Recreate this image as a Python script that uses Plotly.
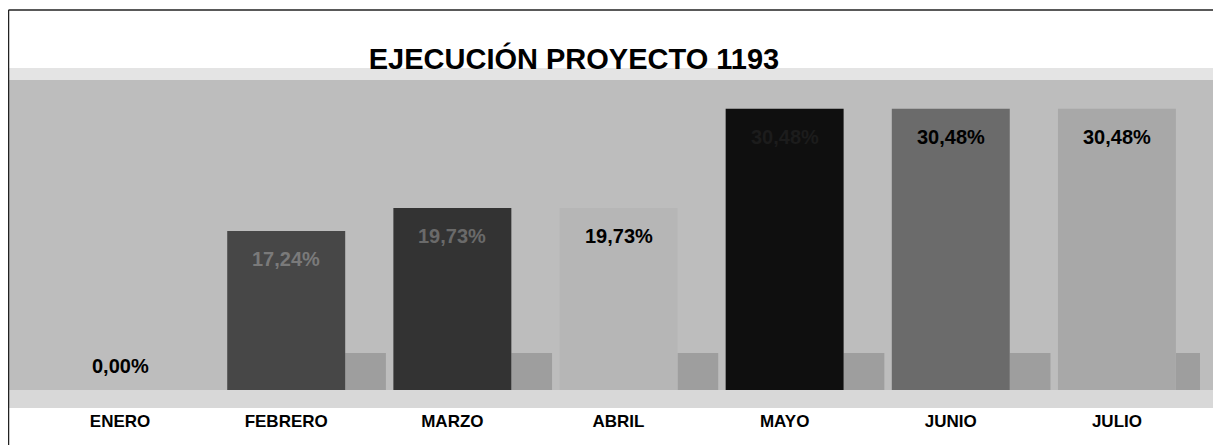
import plotly.graph_objects as go

# ---- data ----
categories = ["ENERO", "FEBRERO", "MARZO", "ABRIL", "MAYO", "JUNIO", "JULIO"]
values = [0.00, 17.24, 19.73, 19.73, 30.48, 30.48, 30.48]
value_labels = ["0,00%", "17,24%", "19,73%", "19,73%", "30,48%", "30,48%", "30,48%"]
title_text = "EJECUCIÓN PROYECTO 1193"

# ---- styles ----
bar_colors = ["#9a9a9a", "#474747", "#333333", "#b6b6b6", "#0f0f0f", "#6b6b6b", "#a8a8a8"]
label_colors = ["#000000", "#7a7a7a", "#6a6a6a", "#000000", "#1c1c1c", "#000000", "#000000"]
BG = "#bdbdbd"
FONT = "Liberation Sans, Arial, sans-serif"

OFF = 8  # page body margin offset (page coords -> figure coords)
W, H = 1221 - OFF, 445 - OFF
# page-coordinate layout targets
PLOT_L, PLOT_R, PLOT_T, BASE = 37, 1200, 80, 390
ML = PLOT_L - OFF
MR = W - (PLOT_R - OFF)
MT = PLOT_T - OFF
MB = H - (BASE - OFF)
plot_w = W - ML - MR
plot_h = H - MT - MB

fig = go.Figure()
fig.add_trace(go.Bar(
    x=categories,
    y=values,
    marker=dict(color=bar_colors, line=dict(width=0)),
    hoverinfo="skip",
))

# data labels near the top of each bar (above baseline for zero)
for cat, v, lab, col in zip(categories, values, value_labels, label_colors):
    fig.add_annotation(
        x=cat, y=v, xref="x", yref="y",
        text=f"<b>{lab}</b>", showarrow=False,
        yanchor="middle", yshift=(-28 if v > 0 else 24),
        font=dict(family=FONT, size=20, color=col),
    )

def px_x(page_px):
    return (page_px - OFF - ML) / plot_w

def px_y(page_py):
    return (H - MB - (page_py - OFF)) / plot_h

shapes = [
    # full-width gray backdrop behind the plot
    dict(type="rect", xref="paper", yref="paper", layer="below",
         x0=px_x(8), x1=px_x(1221), y0=px_y(390), y1=px_y(80),
         fillcolor=BG, line=dict(width=0)),
    # light transition band above plot area
    dict(type="rect", xref="paper", yref="paper", layer="below",
         x0=px_x(8), x1=px_x(1221), y0=px_y(80), y1=px_y(68),
         fillcolor="#e4e4e4", line=dict(width=0)),
    # light floor band below baseline
    dict(type="rect", xref="paper", yref="paper", layer="below",
         x0=px_x(8), x1=px_x(1221), y0=px_y(408), y1=px_y(390),
         fillcolor="#d8d8d8", line=dict(width=0)),
    # frame: top and left edges
    dict(type="line", xref="paper", yref="paper",
         x0=px_x(8.5), x1=px_x(1221), y0=px_y(10), y1=px_y(10),
         line=dict(color="#222222", width=1.5)),
    dict(type="line", xref="paper", yref="paper",
         x0=px_x(8.5), x1=px_x(8.5), y0=px_y(10), y1=px_y(445),
         line=dict(color="#222222", width=1.5)),
]

# soft floor shadows to the right of each non-zero bar (3D effect in original)
for i, v in enumerate(values):
    if v > 0:
        shapes.append(dict(
            type="rect", xref="x", yref="y", layer="below",
            x0=i + 0.355, x1=i + 0.60, y0=0, y1=4.0,
            fillcolor="#555555", opacity=0.3, line=dict(width=0),
        ))

fig.update_layout(
    width=W, height=H,
    margin=dict(l=ML, r=MR, t=MT, b=MB, pad=0, autoexpand=False),
    paper_bgcolor="#ffffff",
    plot_bgcolor=BG,
    bargap=0.29,
    showlegend=False,
    shapes=shapes,
    title=dict(
        text=f"<b>{title_text}</b>",
        x=(574 - OFF) / W, xanchor="center",
        y=1 - (59 - OFF) / H, yanchor="middle",
        font=dict(family=FONT, size=29, color="#000000"),
    ),
    xaxis=dict(
        automargin=False, range=[-0.5, len(categories) - 0.5],
        showgrid=False, zeroline=False, showline=False,
        ticks="outside", ticklen=16, tickcolor="rgba(0,0,0,0)",
        tickfont=dict(family=FONT, size=17, color="#000000"),
        tickprefix="<b>", ticksuffix="</b>",
    ),
    yaxis=dict(
        automargin=False,
        range=[0, 33.6], showgrid=False, zeroline=False,
        showline=False, showticklabels=False, ticks="",
    ),
)

fig.write_html("out.html")
